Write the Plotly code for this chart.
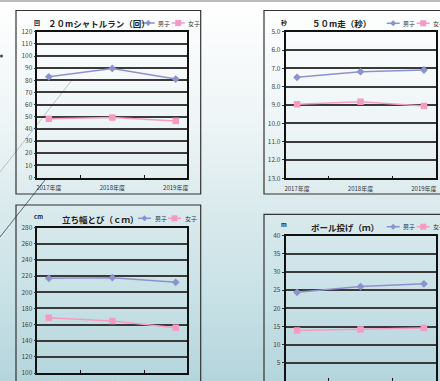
import plotly.graph_objects as go

# ---- data ----
years = ["2017年度", "2018年度", "2019年度"]
series_names = ["男子", "女子"]

shuttle_boys = [82.9, 89.8, 81.0]
shuttle_girls = [48.3, 49.4, 46.6]

dash50_boys = [7.49, 7.18, 7.09]
dash50_girls = [8.96, 8.82, 9.05]

jump_boys = [217.3, 218.1, 212.3]
jump_girls = [168.5, 164.4, 156.1]

throw_boys = [24.4, 26.0, 26.75]
throw_girls = [13.9, 14.2, 14.6]

titles = ["２０mシャトルラン（回）", "５０m走（秒）", "立ち幅とび（ｃｍ）", "ボール投げ（ｍ）"]
units = ["回", "秒", "cm", "m"]

# ---- styling ----
W, H = 440, 381
BOY = "#8c92cd"
GIRL = "#f59bc3"
FONT = "Noto Sans CJK JP, Liberation Sans, sans-serif"


def px(x):
    return x / W


def py(y):
    return 1 - y / H


fig = go.Figure()

# subplot geometry in pixels: (left, right, top, bottom)
plots = [
    (37.3, 187.3, 31.7, 177.5),
    (285.5, 435.5, 31.7, 178.3),
    (37.3, 187.3, 227.7, 373.0),
    (285.5, 435.5, 235.7, 381.0),
]
yconf = [
    dict(range=[0, 120], dtick=10, tickformat="d"),
    dict(range=[13, 5], dtick=1, tickformat=".1f"),
    dict(range=[100, 280], dtick=20, tickformat="d"),
    dict(range=[0, 40], dtick=5, tickformat="d"),
]
datasets = [
    (shuttle_boys, shuttle_girls),
    (dash50_boys, dash50_girls),
    (jump_boys, jump_girls),
    (throw_boys, throw_girls),
]

for i, ((l, r, t, b), yc, (boys, girls)) in enumerate(zip(plots, yconf, datasets)):
    n = "" if i == 0 else str(i + 1)
    xa, ya = "x" + n, "y" + n
    fig.add_trace(go.Scatter(
        x=years, y=boys, name=series_names[0], xaxis=xa, yaxis=ya,
        mode="lines+markers", showlegend=False, cliponaxis=False,
        line=dict(color=BOY, width=1.5),
        marker=dict(symbol="diamond", size=6, color=BOY),
    ))
    fig.add_trace(go.Scatter(
        x=years, y=girls, name=series_names[1], xaxis=xa, yaxis=ya,
        mode="lines+markers", showlegend=False, cliponaxis=False,
        line=dict(color=GIRL, width=1.5),
        marker=dict(symbol="square", size=6.5, color=GIRL),
    ))
    fig.layout["xaxis" + n] = dict(
        domain=[px(l), px(r)], anchor=ya, type="category",
        categoryorder="array", categoryarray=years,
        tickson="boundaries", ticks="inside", ticklen=3, tickwidth=1,
        tickcolor="#111", showgrid=False, zeroline=False,
        showline=True, linecolor="#111", linewidth=1.5, mirror=True,
        ticklabelstandoff=4, automargin=False,
        tickfont=dict(family=FONT, size=6, color="#333"),
        fixedrange=True,
    )
    fig.layout["yaxis" + n] = dict(
        domain=[max(0, py(b)), py(t)], anchor=xa,
        range=yc["range"], tick0=0, dtick=yc["dtick"], tickformat=yc["tickformat"],
        ticks="outside", ticklen=2, tickcolor="#333",
        showgrid=True, gridcolor="#3a3a3a", gridwidth=1.6, zeroline=False,
        showline=True, linecolor="#111", linewidth=1.5, mirror=True,
        automargin=False,
        tickfont=dict(family=FONT, size=6.5, color="#444"),
        fixedrange=True,
    )

shapes = []
annotations = []

# page background: vertical white-to-pale-blue gradient
stops = [(0, (255, 255, 255)), (120, (238, 245, 246)), (200, (220, 235, 238)),
         (300, (199, 225, 230)), (381, (180, 213, 220))]


def grad(y):
    for (y0, c0), (y1, c1) in zip(stops[:-1], stops[1:]):
        if y <= y1:
            f = (y - y0) / (y1 - y0)
            return tuple(round(a + (bb - a) * f) for a, bb in zip(c0, c1))
    return stops[-1][1]


# strips overlap by a pixel so no seams show between them
step = 3
for y in range(0, H, step):
    c = grad(y + step / 2)
    shapes.append(dict(
        type="rect", xref="paper", yref="paper", layer="below",
        x0=0, x1=1, y0=py(y + step + 1.5), y1=py(y),
        fillcolor="rgb(%d,%d,%d)" % c, line=dict(width=0),
    ))

# page decorations
shapes.append(dict(type="line", xref="paper", yref="paper", layer="below",
                   x0=0, x1=1, y0=py(1), y1=py(1), line=dict(color="#777", width=1)))
shapes.append(dict(type="line", xref="paper", yref="paper", layer="below",
                   x0=px(0), y0=py(172), x1=px(72), y1=py(80),
                   line=dict(color="#a9b4bd", width=0.8)))
shapes.append(dict(type="line", xref="paper", yref="paper", layer="below",
                   x0=px(0), y0=py(237), x1=px(45), y1=py(180),
                   line=dict(color="#4a5a6a", width=0.9)))
shapes.append(dict(type="circle", xref="paper", yref="paper", layer="below",
                   x0=px(0), x1=px(3), y0=py(57.5), y1=py(54.5),
                   fillcolor="#444", line=dict(width=0)))

# chart frames
frames = [(16, 200.7, 10.5, 194), (264, 470, 10.5, 194),
          (16, 200.7, 205, 420), (264, 470, 214.3, 420)]
for (l, r, t, b) in frames:
    shapes.append(dict(type="rect", xref="paper", yref="paper", layer="below",
                       x0=px(l), x1=px(r), y0=py(b), y1=py(t),
                       line=dict(color="#333", width=1.2), fillcolor="rgba(0,0,0,0)"))

# titles, unit labels and legends
title_pos = [(99, 23), (341, 23), (100, 219), (345, 226.7)]
unit_pos = [(36.7, 22.7), (284, 22.7), (38, 216.7), (284, 224.3)]
legend_pos = [(141.7, 23), (386.7, 23.3), (138, 218.3), (386.7, 226.7)]

for title, unit, (tx, ty), (ux, uy), (lx, ly) in zip(titles, units, title_pos, unit_pos, legend_pos):
    annotations.append(dict(
        text="<b>%s</b>" % title, x=px(tx), y=py(ty), xref="paper", yref="paper",
        showarrow=False, xanchor="center", yanchor="middle",
        font=dict(family=FONT, size=8.5, color="#222"),
    ))
    annotations.append(dict(
        text="<b>%s</b>" % unit, x=px(ux), y=py(uy), xref="paper", yref="paper",
        showarrow=False, xanchor="center", yanchor="middle",
        font=dict(family=FONT, size=6, color="#222"),
    ))
    for k, (name, col) in enumerate(zip(series_names, [BOY, GIRL])):
        x0 = lx + 30 * k
        shapes.append(dict(type="line", xref="paper", yref="paper",
                           x0=px(x0), x1=px(x0 + 13), y0=py(ly), y1=py(ly),
                           line=dict(color=col, width=1.5)))
        cx = x0 + 6.5
        if k == 0:
            path = "M %f %f L %f %f L %f %f L %f %f Z" % (
                px(cx), py(ly - 3), px(cx + 3), py(ly), px(cx), py(ly + 3), px(cx - 3), py(ly))
            shapes.append(dict(type="path", xref="paper", yref="paper", path=path,
                               fillcolor=col, line=dict(width=0)))
        else:
            shapes.append(dict(type="rect", xref="paper", yref="paper",
                               x0=px(cx - 3), x1=px(cx + 3), y0=py(ly + 3), y1=py(ly - 3),
                               fillcolor=col, line=dict(width=0)))
        annotations.append(dict(
            text=name, x=px(x0 + 14.5), y=py(ly), xref="paper", yref="paper",
            showarrow=False, xanchor="left", yanchor="middle",
            font=dict(family=FONT, size=6, color="#333"),
        ))

fig.update_layout(
    width=W, height=H, margin=dict(l=0, r=0, t=0, b=0, autoexpand=False),
    paper_bgcolor="rgba(0,0,0,0)", plot_bgcolor="rgba(0,0,0,0)",
    shapes=shapes, annotations=annotations, showlegend=False,
    font=dict(family=FONT),
)

fig.write_html("out.html", config={"displayModeBar": False})
